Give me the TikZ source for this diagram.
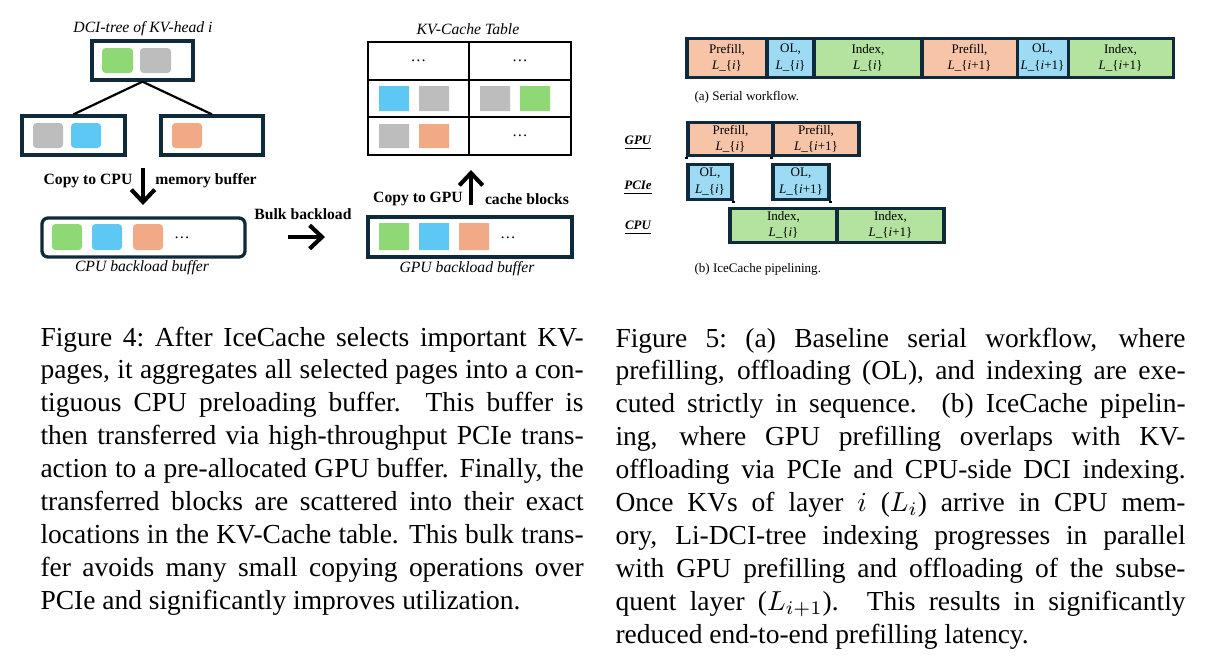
\documentclass[tikz,border=0pt]{standalone}
\usepackage{fontspec}
\setmainfont{Liberation Serif}
\usetikzlibrary{arrows.meta,shapes.misc}
\definecolor{navy}{HTML}{0F2A3A}
\definecolor{cgreen}{HTML}{8ED975}
\definecolor{cgray}{HTML}{BDBDBD}
\definecolor{cblue}{HTML}{5EC8F5}
\definecolor{corange}{HTML}{F2A985}
\definecolor{pfill}{HTML}{F7C4A8}
\definecolor{olfill}{HTML}{9DDBF5}
\definecolor{ixfill}{HTML}{B4E3A0}
\newcommand\dgfont{\fontsize{5.7}{6.8}\selectfont}
\newcommand\segfont{\fontsize{4.75}{5.9}\selectfont}
\newcommand\cpfont{\fontsize{10}{12}\selectfont\sfcode`\:=1000 }
\newcommand\Li[1]{\textit{L}\_\{#1\}}
\newcommand\mkbox[7]{\node[#6, minimum width={(#4-#2)*0.364pt}, minimum height={(#5-#3)*0.364pt}] (#1) at ({(#2+#4)/2},{(#3+#5)/2}) {#7};}
\tikzset{
  dbox/.style={draw=navy, line width=1.2pt, fill=white, inner sep=0},
  chip/.style={inner sep=0, rounded corners=1.3pt},
  tchip/.style={inner sep=0, chamfered rectangle, chamfered rectangle corners={north east,south west}, chamfered rectangle xsep=1.2pt, chamfered rectangle ysep=1.2pt},
  cell/.style={draw=black, line width=0.8pt, inner sep=0, font=\dgfont},
  seg/.style={draw=navy, line width=1.1pt, inner sep=0, align=center, font=\segfont},
  lab/.style={inner sep=0, font=\dgfont},
  bigarrow/.style={line width=1.5pt, -{Straight Barb[length=4.5pt, width=8.5pt]}},
  rowlab/.style={inner sep=0, font=\fontsize{4.7}{5.6}\selectfont\bfseries\itshape},
  captext/.style={inner sep=0, anchor=base west, align=justify, font=\cpfont}
}
\begin{document}
\begin{tikzpicture}[x=0.364pt, y=-0.364pt]
\useasboundingbox[fill=white] (0,0) rectangle (1205,669);
% ---------- Figure 4 ----------
\node[lab, font=\dgfont\itshape] (ttl) at (143,29) {DCI-tree of KV-head \textit{i}};
\mkbox{top}{92}{41}{193}{80}{dbox}{}
\mkbox{lc}{22}{116}{125}{155}{dbox}{}
\mkbox{rc}{161}{116}{263}{155}{dbox}{}
\mkbox{tg}{102}{48}{133}{73}{chip,fill=cgreen}{}
\mkbox{tgr}{140}{48}{171}{73}{chip,fill=cgray}{}
\mkbox{lg}{33}{123}{63}{148}{chip,fill=cgray}{}
\mkbox{lb}{71}{123}{101}{148}{chip,fill=cblue}{}
\mkbox{ro}{172}{123}{202}{148}{chip,fill=corange}{}
\draw[line width=0.8pt] (top.south) -- (lc.north);
\draw[line width=0.8pt] (top.south) -- (rc.north);

\node[lab, font=\dgfont\bfseries] (cpy1) at (88,181) {Copy to CPU};
\node[lab, font=\dgfont\bfseries] (cpy2) at (206,181) {memory buffer};
\coordinate (a1s) at (143,168);
\coordinate (a1e) at (143,205);
\draw[bigarrow] (a1s) -- (a1e);

\mkbox{cpub}{42}{218}{245}{257}{dbox, rounded corners=2.2pt}{}
\mkbox{cb1}{52}{224}{82}{250}{chip,fill=cgreen}{}
\mkbox{cb2}{92}{224}{122}{250}{chip,fill=cblue}{}
\mkbox{cb3}{133}{224}{163}{250}{chip,fill=corange}{}
\node[lab] (cbd) at (182,238) {\dots};
\node[lab, font=\dgfont\itshape] (cbl) at (142,268) {CPU backload buffer};

\node[lab, font=\dgfont\bfseries] (bulk) at (303,214) {Bulk backload};
\coordinate (a2s) at (288,237);
\coordinate (a2e) at (325,237);
\draw[bigarrow] (a2s) -- (a2e);

\node[lab, font=\dgfont\bfseries] (cpg1) at (418,199) {Copy to GPU};
\node[lab, font=\dgfont\bfseries] (cpg2) at (527,199) {cache blocks};
\coordinate (a3s) at (471,205);
\coordinate (a3e) at (471,170);
\draw[bigarrow] (a3s) -- (a3e);

\mkbox{gpub}{368}{217}{572}{257}{dbox, chamfered rectangle, chamfered rectangle corners={north east,south west}, chamfered rectangle xsep=2.5pt, chamfered rectangle ysep=2.5pt}{}
\mkbox{gb1}{379}{223}{409}{250}{tchip,fill=cgreen}{}
\mkbox{gb2}{419}{223}{449}{250}{tchip,fill=cblue}{}
\mkbox{gb3}{459}{223}{489}{250}{tchip,fill=corange}{}
\node[lab] (gbd) at (508,238) {\dots};
\node[lab, font=\dgfont\itshape] (gbl) at (467,269) {GPU backload buffer};

\node[lab, font=\dgfont\itshape] (kvt) at (468,29) {KV-Cache Table};
\mkbox{c11}{368}{42}{469}{80}{cell}{\dots}
\mkbox{c12}{469}{42}{571}{80}{cell}{\dots}
\mkbox{c21}{368}{80}{469}{117}{cell}{}
\mkbox{c22}{469}{80}{571}{117}{cell}{}
\mkbox{c31}{368}{117}{469}{155}{cell}{}
\mkbox{c32}{469}{117}{571}{155}{cell}{\dots}
\mkbox{k1}{379}{86}{409}{111}{tchip,fill=cblue}{}
\mkbox{k2}{419}{86}{449}{111}{tchip,fill=cgray}{}
\mkbox{k3}{480}{86}{510}{111}{tchip,fill=cgray}{}
\mkbox{k4}{520}{86}{550}{111}{tchip,fill=cgreen}{}
\mkbox{k5}{379}{124}{409}{148}{tchip,fill=cgray}{}
\mkbox{k6}{419}{124}{449}{148}{tchip,fill=corange}{}

% ---------- Figure 5 ----------
\mkbox{s1}{687}{38}{767}{77}{seg,fill=pfill}{Prefill,\\\Li{\textit{i}}}
\mkbox{s2}{767}{38}{814}{77}{seg,fill=olfill}{OL,\\\Li{\textit{i}}}
\mkbox{s3}{814}{38}{922}{77}{seg,fill=ixfill}{Index,\\\Li{\textit{i}}}
\mkbox{s4}{922}{38}{1017}{77}{seg,fill=pfill}{Prefill,\\\Li{\textit{i}+1}}
\mkbox{s5}{1017}{38}{1068}{77}{seg,fill=olfill}{OL,\\\Li{\textit{i}+1}}
\mkbox{s6}{1068}{38}{1173}{77}{seg,fill=ixfill}{Index,\\\Li{\textit{i}+1}}
\node[lab, font=\segfont, anchor=west] (sa) at (694,97) {(a) Serial workflow.};

\node[rowlab] (lgpu) at (638,143) {\underline{GPU}};
\node[rowlab] (lpci) at (638,188) {\underline{PCIe}};
\node[rowlab] (lcpu) at (638,228) {\underline{CPU}};
\mkbox{p1}{688}{122}{773}{155}{seg,fill=pfill}{Prefill,\\\Li{\textit{i}}}
\mkbox{p2}{773}{122}{859}{155}{seg,fill=pfill}{Prefill,\\\Li{\textit{i}+1}}
\mkbox{o1}{688}{164}{732}{199}{seg,fill=olfill}{OL,\\\Li{\textit{i}}}
\mkbox{o2}{773}{164}{829}{199}{seg,fill=olfill}{OL,\\\Li{\textit{i}+1}}
\mkbox{i1}{730}{208}{837}{242}{seg,fill=ixfill}{Index,\\\Li{\textit{i}}}
\mkbox{i2}{837}{208}{944}{242}{seg,fill=ixfill}{Index,\\\Li{\textit{i}+1}}
\draw[dotted, line width=0.8pt] (p1.south west) -- (o1.north west);
\draw[dotted, line width=0.8pt] (p2.south west) -- (o2.north west);
\draw[dotted, line width=0.8pt] (o1.south east) -- (o1.south east |- i1.north);
\draw[dotted, line width=0.8pt] (o2.south east) -- (o2.south east |- i1.north);
\node[lab, font=\segfont, anchor=west] (sb) at (694,269) {(b) IceCache pipelining.};

% ---------- captions ----------
\node[captext, text width=197.7pt] (cap4) at (40,346) {Figure 4: After IceCache selects important KV-\linebreak pages, it aggregates all selected pages into a con-\linebreak tiguous CPU preloading buffer. This buffer is\linebreak then transferred via high-throughput PCIe trans-\linebreak action to a pre-allocated GPU buffer. Finally, the\linebreak transferred blocks are scattered into their exact\linebreak locations in the KV-Cache table. This bulk trans-\linebreak fer avoids many small copying operations over\linebreak PCIe and significantly improves utilization.};
\node[captext, text width=207.5pt] (cap5) at (615,347) {Figure 5: (a) Baseline serial workflow, where\linebreak prefilling, offloading (OL), and indexing are exe-\linebreak cuted strictly in sequence. (b) IceCache pipelin-\linebreak ing, where GPU prefilling overlaps with KV-\linebreak offloading via PCIe and CPU-side DCI indexing.\linebreak Once KVs of layer $i$ ($L_i$) arrive in CPU mem-\linebreak ory, Li-DCI-tree indexing progresses in parallel\linebreak with GPU prefilling and offloading of the subse-\linebreak quent layer ($L_{i+1}$). This results in significantly\linebreak reduced end-to-end prefilling latency.};
\end{tikzpicture}
\end{document}
